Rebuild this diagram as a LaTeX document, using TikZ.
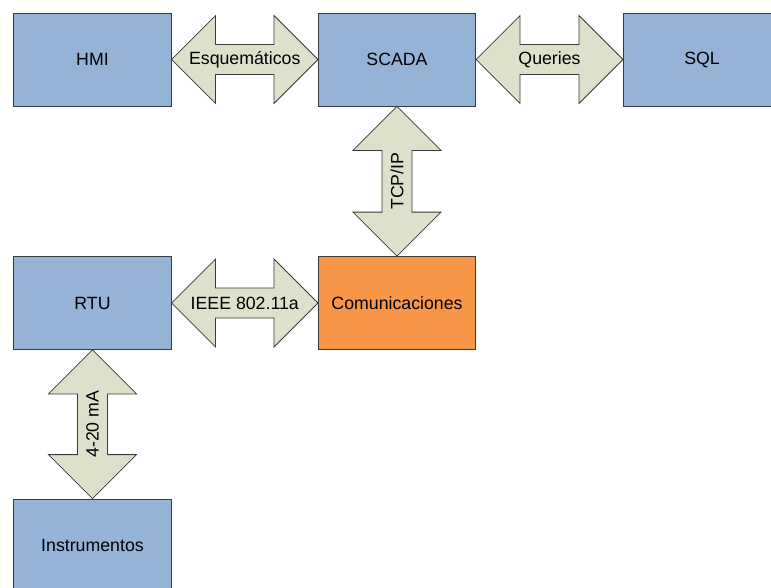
\documentclass[tikz,border=0pt]{standalone}
\usepackage{fontspec}
\setmainfont{Liberation Sans}
\usetikzlibrary{calc, positioning}
\definecolor{azulbloque}{HTML}{95B3D7}
\definecolor{naranja}{HTML}{F79646}
\definecolor{enlace}{HTML}{DDE1CB}
\definecolor{borde}{HTML}{3A3A3A}

\begin{document}
\begin{tikzpicture}[x=0.75pt, y=0.75pt,
  bloque/.style={rectangle, draw=borde, fill=azulbloque, line width=0.6pt, minimum width=118pt, minimum height=69.75pt, inner sep=0pt, font=\fontsize{13.3}{16}\selectfont},
  etiqueta/.style={inner sep=0pt, font=\fontsize{13.3}{16}\selectfont},
  flechaH/.style={draw=borde, fill=enlace, line width=0.6pt, line join=miter,
    to path={-- ($(\tikztostart)+(44,44)$) -- ($(\tikztostart)+(44,15)$)
      -- ($(\tikztotarget)+(-44,15)$) -- ($(\tikztotarget)+(-44,44)$) -- (\tikztotarget)
      -- ($(\tikztotarget)+(-44,-44)$) -- ($(\tikztotarget)+(-44,-15)$)
      -- ($(\tikztostart)+(44,-15)$) -- ($(\tikztostart)+(44,-44)$) -- cycle}},
  flechaV/.style={draw=borde, fill=enlace, line width=0.6pt, line join=miter,
    to path={-- ($(\tikztostart)+(44,-44)$) -- ($(\tikztostart)+(15,-44)$)
      -- ($(\tikztotarget)+(15,44)$) -- ($(\tikztotarget)+(44,44)$) -- (\tikztotarget)
      -- ($(\tikztotarget)+(-44,44)$) -- ($(\tikztotarget)+(-15,44)$)
      -- ($(\tikztostart)+(-15,-44)$) -- ($(\tikztostart)+(-44,-44)$) -- cycle}}
]
  \clip (0,0) rectangle (771,587);

  \node[bloque] (hmi) at (92.5,527.5) {HMI};
  \node[bloque] (scada) at (397,527.5) {SCADA};
  \node[bloque] (sql) at (702,527.5) {SQL};
  \node[bloque] (rtu) at (92.5,284) {RTU};
  \node[bloque, fill=naranja] (com) at (397,284) {Comunicaciones};
  \node[bloque] (inst) at (92.5,41.5) {Instrumentos};

  \draw[flechaH] (hmi.east) to (scada.west);
  \draw[flechaH] (scada.east) to (sql.west);
  \draw[flechaH] (rtu.east) to (com.west);
  \draw[flechaV] (scada.south) to (com.north);
  \draw[flechaV] (rtu.south) to (inst.north);

  \node[etiqueta] (lblesq) at ($(hmi.east)!0.5!(scada.west)$) {Esquemáticos};
  \node[etiqueta] (lblqry) at ($(scada.east)!0.5!(sql.west)$) {Queries};
  \node[etiqueta] (lblieee) at ($(rtu.east)!0.5!(com.west)$) {IEEE 802.11a};
  \node[etiqueta, rotate=90] (lbltcp) at ($(scada.south)!0.5!(com.north)$) {TCP/IP};
  \node[etiqueta, rotate=90] (lblma) at ($(rtu.south)!0.5!(inst.north)$) {4-20 mA};
\end{tikzpicture}
\end{document}
